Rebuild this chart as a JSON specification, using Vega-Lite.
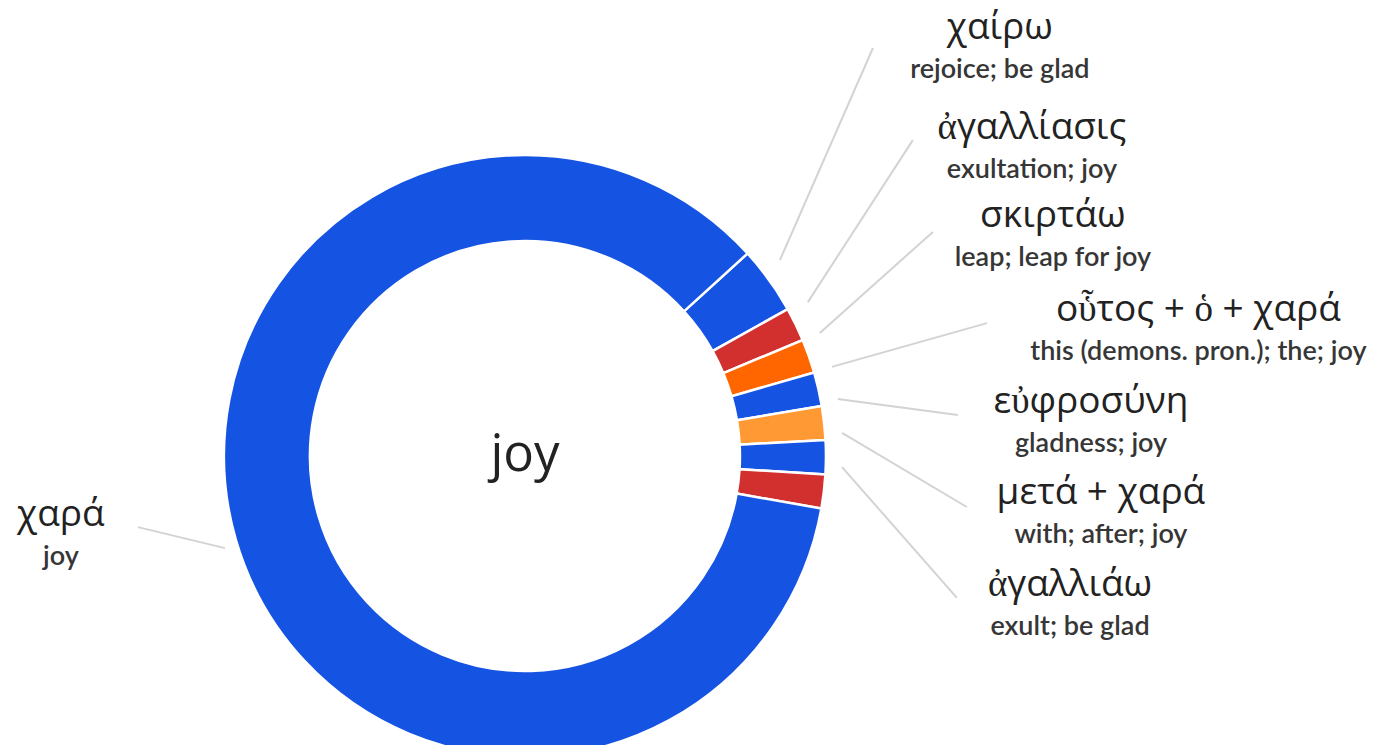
{
  "$schema": "https://vega.github.io/schema/vega-lite/v6.json",
  "width": 1382,
  "height": 745,
  "autosize": {"type": "none"},
  "padding": 0,
  "background": "white",
  "config": {"view": {"stroke": null}},
  "datasets": {
    "slices": [
      {"name": "χαίρω", "count": 2, "rank": 1},
      {"name": "ἀγαλλίασις", "count": 1, "rank": 2},
      {"name": "σκιρτάω", "count": 1, "rank": 3},
      {"name": "οὗτος + ὁ + χαρά", "count": 1, "rank": 4},
      {"name": "εὐφροσύνη", "count": 1, "rank": 5},
      {"name": "μετά + χαρά", "count": 1, "rank": 6},
      {"name": "ἀγαλλιάω", "count": 1, "rank": 7},
      {"name": "χαρά", "count": 47, "rank": 8}
    ],
    "labels": [
      {"name": "χαίρω", "gloss": "rejoice; be glad", "lx": 1.583, "ly": 1.427},
      {"name": "ἀγαλλίασις", "gloss": "exultation; joy", "lx": 1.69, "ly": 1.093},
      {"name": "σκιρτάω", "gloss": "leap; leap for joy", "lx": 1.76, "ly": 0.8},
      {"name": "οὗτος + ὁ + χαρά", "gloss": "this (demons. pron.); the; joy", "lx": 2.245, "ly": 0.487},
      {"name": "εὐφροσύνη", "gloss": "gladness; joy", "lx": 1.887, "ly": 0.18},
      {"name": "μετά + χαρά", "gloss": "with; after; joy", "lx": 1.92, "ly": -0.123},
      {"name": "ἀγαλλιάω", "gloss": "exult; be glad", "lx": 1.817, "ly": -0.43},
      {"name": "χαρά", "gloss": "joy", "lx": -1.547, "ly": -0.197}
    ],
    "leaders": [
      {"name": "χαίρω", "x1": 0.85, "y1": 0.653, "x2": 1.16, "y2": 1.36},
      {"name": "ἀγαλλίασις", "x1": 0.943, "y1": 0.513, "x2": 1.293, "y2": 1.053},
      {"name": "σκιρτάω", "x1": 0.983, "y1": 0.41, "x2": 1.36, "y2": 0.747},
      {"name": "οὗτος + ὁ + χαρά", "x1": 1.023, "y1": 0.297, "x2": 1.54, "y2": 0.443},
      {"name": "εὐφροσύνη", "x1": 1.043, "y1": 0.19, "x2": 1.443, "y2": 0.137},
      {"name": "μετά + χαρά", "x1": 1.057, "y1": 0.077, "x2": 1.473, "y2": -0.17},
      {"name": "ἀγαλλιάω", "x1": 1.057, "y1": -0.037, "x2": 1.44, "y2": -0.473},
      {"name": "χαρά", "x1": -1.0, "y1": -0.307, "x2": -1.29, "y2": -0.237}
    ],
    "center": [{"title": "joy"}]
  },
  "resolve": {"scale": {"x": "shared", "y": "shared"}},
  "layer": [
    {
      "data": {"name": "slices"},
      "mark": {"type": "arc", "radius": 301, "innerRadius": 215, "stroke": "white", "strokeWidth": 2.5},
      "encoding": {
        "x": {"datum": 0, "type": "quantitative", "scale": {"domain": [-1.75, 2.857], "nice": false, "zero": false}, "axis": null},
        "y": {"datum": 0, "type": "quantitative", "scale": {"domain": [-0.9633, 1.52], "nice": false, "zero": false}, "axis": null},
        "theta": {"field": "count", "type": "quantitative", "stack": true, "scale": {"range": [0.8325, 7.1157]}},
        "order": {"field": "rank", "type": "quantitative"},
        "color": {
          "field": "name", "type": "nominal", "legend": null,
          "scale": {
            "domain": ["χαίρω", "ἀγαλλίασις", "σκιρτάω", "οὗτος + ὁ + χαρά", "εὐφροσύνη", "μετά + χαρά", "ἀγαλλιάω", "χαρά"],
            "range": ["#1553e2", "#d22f2f", "#ff6600", "#1553e2", "#ff9933", "#1553e2", "#d22f2f", "#1553e2"]
          }
        }
      }
    },
    {
      "data": {"name": "leaders"},
      "mark": {"type": "rule", "color": "#d3d3d3", "strokeWidth": 2},
      "encoding": {
        "x": {"field": "x1", "type": "quantitative"},
        "y": {"field": "y1", "type": "quantitative"},
        "x2": {"field": "x2"},
        "y2": {"field": "y2"}
      }
    },
    {
      "data": {"name": "labels"},
      "mark": {"type": "text", "font": "Open Sans", "fontSize": 37, "color": "#222222", "align": "center", "baseline": "middle"},
      "encoding": {
        "x": {"field": "lx", "type": "quantitative"},
        "y": {"field": "ly", "type": "quantitative"},
        "text": {"field": "name"}
      }
    },
    {
      "data": {"name": "labels"},
      "mark": {"type": "text", "font": "Lato", "fontSize": 27, "fontWeight": 600, "color": "#363636", "align": "center", "baseline": "middle", "dy": 42},
      "encoding": {
        "x": {"field": "lx", "type": "quantitative"},
        "y": {"field": "ly", "type": "quantitative"},
        "text": {"field": "gloss"}
      }
    },
    {
      "data": {"name": "center"},
      "mark": {"type": "text", "font": "Open Sans", "fontSize": 51, "color": "#222222", "align": "center", "baseline": "middle"},
      "encoding": {
        "x": {"datum": 0, "type": "quantitative"},
        "y": {"datum": 0, "type": "quantitative"},
        "text": {"field": "title"}
      }
    }
  ]
}
